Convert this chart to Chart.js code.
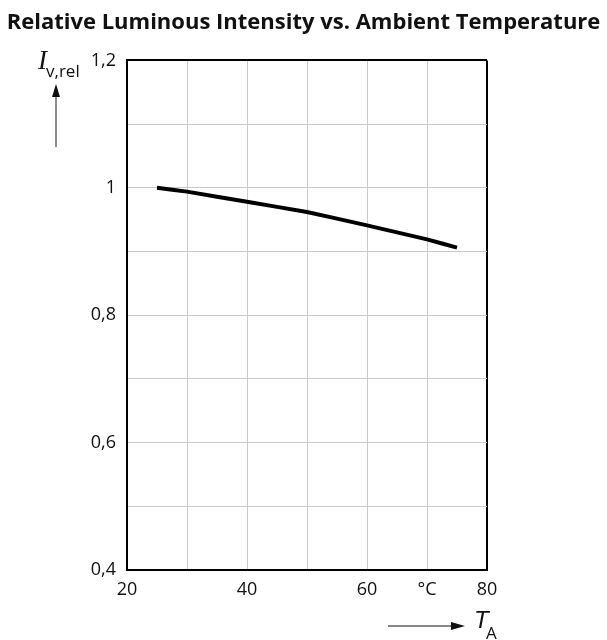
<!DOCTYPE html>
<html>
<head>
<meta charset="utf-8">
<script src="https://cdn.jsdelivr.net/npm/chart.js@4.4.1/dist/chart.umd.min.js"></script>
<style>
  html, body { margin: 0; padding: 0; background: #fff; }
  #wrap { width: 607px; height: 640px; position: relative; }
</style>
</head>
<body>
<div id="wrap"><canvas id="myChart"></canvas></div>
<script>
// ambient temperature (°C) and relative luminous intensity
const temps = [25, 30, 40, 50, 60, 70, 75];
const intensity = [1.0, 0.994, 0.978, 0.962, 0.941, 0.919, 0.906];

// tick labels (grid every 10 °C / 0.1)
const xTickLabels = { 20: '20', 30: '', 40: '40', 50: '', 60: '60', 70: '°C', 80: '80' };
const yTickLabels = { 4: '0,4', 6: '0,6', 8: '0,8', 10: '1', 12: '1,2' };

const gridGray = '#c9c9c9';
const tickFont = { family: 'Open Sans', size: 18 };

// arrow + symbol labels for the axes
const axisSymbols = {
    id: 'axisSymbols',
    afterDraw(chart) {
        const c = chart.ctx;
        c.save();
        c.fillStyle = '#111';
        c.strokeStyle = '#666';
        c.lineWidth = 1.5;

        // y: I v,rel with arrow up
        c.font = 'italic 27px "Liberation Serif"';
        c.textBaseline = 'alphabetic';
        c.fillText('I', 38, 69);
        c.font = '17px "Open Sans"';
        c.fillText('v,rel', 46, 77);
        c.beginPath();
        c.moveTo(56, 147);
        c.lineTo(56, 94);
        c.stroke();
        c.beginPath();
        c.moveTo(56, 84);
        c.lineTo(52, 97);
        c.lineTo(60, 97);
        c.closePath();
        c.fill();

        // x: arrow right, T A
        c.strokeStyle = '#111';
        c.lineWidth = 1.2;
        c.beginPath();
        c.moveTo(388, 626);
        c.lineTo(455, 626);
        c.stroke();
        c.beginPath();
        c.moveTo(465, 626);
        c.lineTo(451, 622);
        c.lineTo(451, 630);
        c.closePath();
        c.fill();
        c.font = 'italic 24px "Liberation Sans"';
        c.fillText('T', 474, 628);
        c.font = '17px "Open Sans"';
        c.fillText('A', 486, 639);
        c.restore();
    }
};

const ctx = document.getElementById('myChart').getContext('2d');
const myChart = new Chart(ctx, {
    type: 'line',
    data: {
        datasets: [{
            data: temps.map((t, i) => ({ x: t, y: intensity[i] })),
            borderColor: '#000',
            borderWidth: 4,
            pointRadius: 0,
            tension: 0.1,
            fill: false
        }]
    },
    options: {
        responsive: true,
        maintainAspectRatio: false,
        animation: false,
        layout: { padding: 0 },
        scales: {
            x: {
                type: 'linear',
                min: 20,
                max: 80,
                afterFit: (s) => { s.height = 70; },
                ticks: {
                    stepSize: 10,
                    autoSkip: false,
                    maxRotation: 0,
                    padding: 9,
                    color: '#111',
                    font: tickFont,
                    callback: (v) => xTickLabels[Math.round(v)] ?? ''
                },
                grid: {
                    drawTicks: false,
                    color: (c) => (c.tick && c.tick.value === 80) ? '#000' : gridGray,
                    lineWidth: (c) => (c.tick && c.tick.value === 80) ? 2 : 1
                },
                border: { color: '#000', width: 2 }
            },
            y: {
                min: 0.4,
                max: 1.2,
                afterFit: (s) => { s.width = 127; },
                ticks: {
                    stepSize: 0.1,
                    autoSkip: false,
                    padding: 11,
                    color: '#111',
                    font: tickFont,
                    callback: (v) => yTickLabels[Math.round(v * 10)] ?? ''
                },
                grid: {
                    drawTicks: false,
                    color: (c) => (c.tick && Math.round(c.tick.value * 10) === 12) ? '#000' : gridGray,
                    lineWidth: (c) => (c.tick && Math.round(c.tick.value * 10) === 12) ? 2 : 1
                },
                border: { color: '#000', width: 2 }
            },
            // empty right axis, only reserves the blank margin
            yRight: {
                position: 'right',
                min: 0.4,
                max: 1.2,
                afterFit: (s) => { s.width = 120; },
                ticks: { display: false },
                grid: { display: false, drawOnChartArea: false },
                border: { display: false }
            }
        },
        plugins: {
            legend: { display: false },
            tooltip: { enabled: false },
            title: {
                display: true,
                text: 'Relative Luminous Intensity vs. Ambient Temperature',
                color: '#111',
                font: { family: 'Open Sans', size: 22, weight: 'bold', lineHeight: 1.2 },
                padding: { top: 10, bottom: 24 }
            }
        }
    },
    plugins: [axisSymbols]
});
</script>
</body>
</html>
